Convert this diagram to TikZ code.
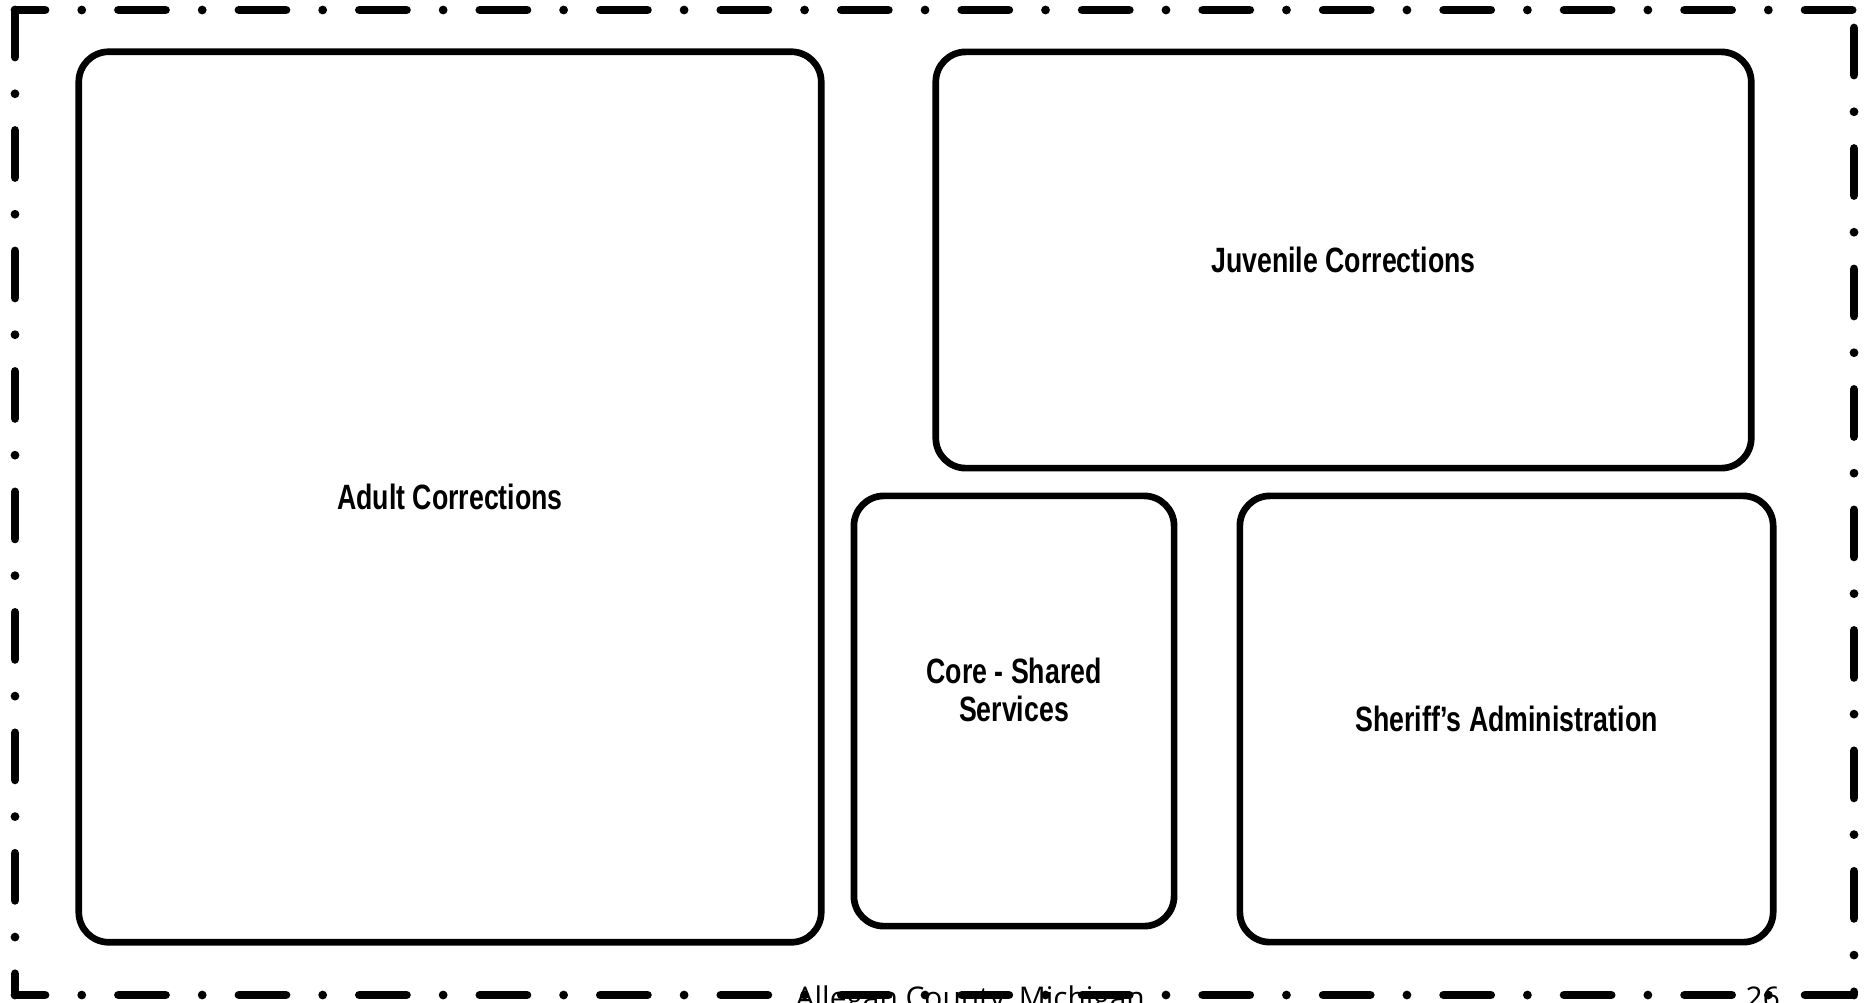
\documentclass[tikz,border=0pt]{standalone}
\usepackage{fontspec}
\usepackage{tikz}
\newfontfamily\boxfont[FakeStretch=0.76]{Liberation Sans}
\newfontfamily\footfont{Open Sans}

\begin{document}
\begin{tikzpicture}[x=0.01cm,y=-0.01cm,
	box/.style={rectangle,draw,line width=1.9pt,rounded corners=0.3cm,inner sep=0pt,
		font=\boxfont\bfseries\fontsize{10}{10.8}\selectfont,align=center},
	border/.style={line width=2.5pt,line cap=round,
		dash pattern=on 0.47cm off 0.367cm on 0cm off 0.367cm},
	foot/.style={font=\footfont\fontsize{8.5}{10}\selectfont,anchor=base west,inner sep=0pt}]
	\clip (0,0) rectangle (1870,1002);

	% page footer, cut by the page edge
	\node[foot] (county) at (795,1008) {Allegan County, Michigan};
	\node[foot] (page) at (1745,1008) {26};

	% dash-dot frame
	\coordinate (tl) at (15,10);
	\coordinate (tr) at (1854,10);
	\coordinate (br) at (1854,995);
	\coordinate (bl) at (15,995);
	\draw[border,dash phase=0.17cm] (tl) -- (tr);
	\draw[border,dash phase=0.17cm] (bl) -- (br);
	\draw[border] (tl) -- (bl);
	\draw[border,dash phase=1.024cm] (tr) -- (br);

	% the four areas
	\node[box,minimum width=7.42cm,minimum height=8.9cm] (adult) at (450,497) {Adult Corrections};
	\node[box,minimum width=8.15cm,minimum height=4.16cm] (juvenile) at (1343.5,260) {Juvenile Corrections};
	\node[box,minimum width=3.2cm,minimum height=4.3cm] (core) at (1014,711) {};
	\node[box,draw=none] (coretext) at (1014,690) {Core - Shared\\Services};
	\node[box,minimum width=5.33cm,minimum height=4.46cm] (sheriff) at (1506.5,719) {Sheriff’s Administration};
\end{tikzpicture}
\end{document}
